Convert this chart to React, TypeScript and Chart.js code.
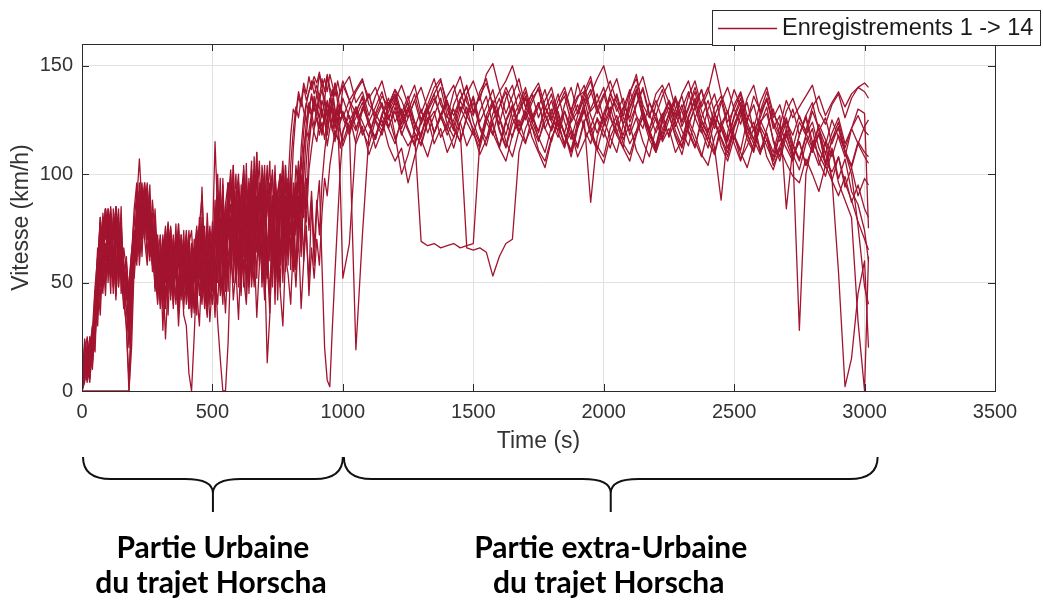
import React, { useEffect, useRef } from "react";
import { Chart, registerables } from "chart.js";

Chart.register(...registerables);

// Sampling grid of the recordings (seconds): every 10 s in town, every 25 s afterwards, last sample at 3015 s
const TIME_URBAN = Array.from({ length: 100 }, (_, i) => i * 10);
const TIME_ROAD = Array.from({ length: 81 }, (_, i) => 1000 + i * 25);
const TIME_S = [...TIME_URBAN, ...TIME_ROAD, 3015];

// Speed (km/h) of each recording
const REC_01 = [
  0, 5, 18, 10, 22, 38, 55, 80, 62, 84,
  50, 78, 45, 85, 60, 72, 40, 55, 35, 62,
  80, 70, 95, 78, 92, 60, 85, 55, 70, 45,
  62, 38, 70, 52, 75, 45, 68, 40, 72, 55,
  48, 70, 42, 65, 35, 72, 50, 76, 45, 68,
  52, 88, 60, 98, 45, 85, 70, 100, 55, 92,
  48, 95, 62, 105, 50, 88, 72, 110, 58, 90,
  45, 98, 65, 85, 40, 92, 60, 102, 70, 96,
  118, 130, 127, 136, 131, 140, 134, 138, 143, 137,
  141, 135, 144, 138, 146, 140, 136, 142, 133, 138,
  143, 134, 128, 136, 124, 131, 138, 126, 133, 121,
  129, 137, 125, 132, 140, 144, 130, 122, 134, 127,
  136, 124, 131, 139, 126, 118, 130, 137, 125, 133,
  140, 128, 120, 131, 136, 124, 129, 138, 127, 119,
  128, 137, 131, 123, 133, 141, 129, 120, 132, 139,
  127, 134, 122, 130, 138, 125, 119, 131, 136, 124,
  130, 137, 124, 116, 128, 135, 121, 127, 84, 112,
  124, 118, 129, 121, 113, 125, 117, 108, 121, 114,
  122, 125,
];
const REC_02 = [
  0, 0, 0, 0, 0, 0, 0, 0, 0, 0,
  0, 0, 0, 0, 0, 0, 0, 0, 0, 30,
  62, 88, 107, 85, 96, 70, 90, 62, 78, 50,
  65, 28, 58, 45, 72, 50, 66, 42, 70, 48,
  60, 38, 66, 50, 74, 58, 94, 55, 72, 45,
  68, 115, 82, 60, 95, 52, 88, 68, 104, 58,
  80, 46, 98, 70, 88, 55, 102, 66, 92, 50,
  95, 62, 84, 48, 100, 72, 90, 56, 98, 80,
  104, 120, 131, 126, 135, 129, 124, 133, 128, 136,
  131, 126, 134, 129, 123, 132, 127, 121, 130, 125,
  128, 120, 131, 124, 117, 127, 133, 122, 129, 118,
  126, 134, 123, 130, 119, 127, 136, 141, 129, 137,
  143, 134, 146, 151, 139, 128, 136, 144, 131, 125,
  133, 121, 128, 137, 124, 116, 127, 135, 122, 130,
  137, 126, 118, 130, 139, 127, 121, 133, 125, 117,
  128, 136, 124, 131, 140, 129, 120, 127, 134, 122,
  116, 127, 133, 120, 126, 135, 123, 115, 124, 118,
  127, 119, 112, 123, 116, 108, 118, 111, 104, 115,
  110, 108,
];
const REC_03 = [
  0, 15, 8, 22, 14, 30, 48, 70, 55, 78,
  62, 85, 58, 80, 48, 66, 42, 30, 0, 20,
  58, 75, 92, 70, 88, 78, 95, 65, 52, 70,
  45, 68, 55, 78, 50, 62, 40, 70, 58, 35,
  30, 8, 0, 25, 55, 75, 48, 68, 40, 60,
  50, 72, 100, 65, 92, 48, 80, 95, 60, 88,
  100, 55, 78, 96, 45, 85, 70, 104, 62, 92,
  50, 88, 106, 60, 94, 42, 82, 98, 55, 80,
  92, 58, 96, 75, 112, 126, 133, 128, 137, 131,
  127, 134, 139, 132, 126, 135, 129, 124, 133, 128,
  135, 126, 120, 131, 124, 116, 127, 133, 118, 100,
  109, 121, 130, 119, 127, 135, 123, 117, 128, 136,
  124, 115, 127, 134, 121, 113, 126, 132, 140, 128,
  119, 130, 137, 124, 114, 127, 135, 141, 129, 133,
  140, 127, 118, 112, 137, 146, 130, 121, 128, 116,
  125, 135, 129, 119, 112, 126, 134, 123, 117, 110,
  122, 131, 119, 111, 124, 128, 116, 108, 121, 113,
  106, 117, 110, 119, 104, 112, 98, 107, 92, 86,
  74, 60,
];
const REC_04 = [
  0, 8, 20, 12, 25, 18, 52, 75, 48, 82,
  70, 45, 84, 55, 78, 60, 50, 38, 28, 48,
  72, 60, 88, 96, 75, 90, 68, 82, 55, 40,
  60, 48, 72, 35, 65, 52, 77, 46, 68, 38,
  58, 74, 44, 66, 52, 80, 58, 42, 70, 55,
  40, 58, 32, 15, 0, 0, 22, 60, 85, 55,
  92, 62, 100, 48, 82, 106, 58, 90, 72, 98,
  60, 13, 35, 78, 96, 52, 88, 65, 104, 70,
  95, 55, 88, 102, 68, 98, 118, 130, 127, 134,
  130, 137, 128, 124, 133, 127, 135, 129, 122, 131,
  126, 134, 121, 129, 137, 124, 118, 129, 135, 123,
  130, 119, 114, 125, 133, 140, 127, 120, 131, 124,
  118, 129, 136, 122, 113, 125, 132, 119, 127, 135,
  139, 127, 120, 131, 138, 128, 142, 131, 137, 144,
  150, 138, 129, 135, 124, 132, 140, 128, 119, 127,
  134, 122, 130, 138, 126, 119, 130, 137, 124, 116,
  126, 133, 121, 114, 125, 118, 110, 122, 115, 107,
  118, 126, 112, 104, 115, 97, 108, 94, 103, 90,
  98, 95,
];
const REC_05 = [
  0, 20, 14, 25, 10, 42, 35, 65, 80, 52,
  76, 84, 50, 68, 82, 45, 60, 48, 32, 58,
  78, 92, 66, 85, 70, 96, 62, 80, 48, 66,
  40, 60, 75, 48, 70, 56, 42, 66, 50, 74,
  46, 62, 38, 70, 54, 76, 62, 48, 82, 58,
  78, 48, 90, 62, 98, 55, 84, 70, 104, 52,
  88, 66, 96, 42, 80, 100, 56, 74, 92, 48,
  85, 104, 60, 90, 72, 50, 96, 66, 86, 58,
  98, 72, 90, 106, 84, 112, 120, 116, 125, 119,
  115, 124, 118, 127, 113, 121, 126, 117, 123, 112,
  120, 127, 114, 122, 109, 118, 125, 113, 106, 112,
  96, 108, 119, 126, 114, 121, 110, 117, 124, 113,
  120, 109, 116, 124, 112, 106, 118, 125, 115, 122,
  111, 106, 117, 123, 113, 120, 108, 115, 122, 111,
  105, 117, 124, 114, 109, 119, 126, 116, 110, 121,
  127, 118, 112, 123, 115, 108, 120, 126, 113, 106,
  117, 110, 103, 114, 121, 108, 102, 112, 105, 99,
  96, 107, 100, 92, 104, 97, 90, 99, 87, 95,
  84, 80,
];
const REC_06 = [
  0, 10, 4, 25, 16, 35, 62, 48, 82, 70,
  84, 62, 78, 50, 72, 58, 44, 30, 5, 38,
  68, 82, 72, 94, 80, 88, 70, 58, 74, 46,
  55, 70, 42, 62, 48, 72, 54, 40, 64, 50,
  72, 46, 60, 38, 66, 52, 80, 56, 44, 68,
  58, 80, 50, 92, 66, 48, 86, 102, 70, 56,
  96, 78, 104, 60, 90, 70, 108, 64, 94, 82,
  100, 58, 86, 72, 104, 62, 96, 50, 90, 68,
  84, 112, 128, 138, 133, 142, 137, 145, 139, 143,
  136, 146, 140, 134, 145, 138, 131, 142, 137, 129,
  140, 145, 133, 138, 127, 136, 143, 131, 137, 126,
  134, 141, 128, 136, 144, 132, 126, 138, 145, 133,
  127, 138, 144, 131, 123, 135, 141, 128, 136, 124,
  131, 139, 126, 120, 132, 140, 128, 136, 143, 130,
  124, 137, 144, 132, 126, 138, 145, 133, 127, 136,
  142, 130, 124, 136, 143, 131, 138, 151, 137, 128,
  139, 131, 124, 136, 129, 138, 126, 132, 121, 130,
  118, 127, 133, 120, 126, 114, 122, 110, 100, 76,
  48, 40,
];
const REC_07 = [
  0, 12, 22, 15, 30, 24, 45, 72, 58, 80,
  66, 82, 48, 74, 56, 85, 40, 58, 46, 64,
  52, 70, 84, 62, 92, 74, 60, 82, 50, 72,
  48, 66, 40, 58, 74, 50, 66, 36, 60, 45,
  70, 54, 42, 64, 48, 72, 60, 38, 58, 32,
  50, 66, 78, 92, 58, 84, 46, 72, 94, 60,
  80, 50, 90, 68, 98, 56, 84, 100, 62, 88,
  54, 92, 70, 58, 96, 74, 48, 86, 64, 98,
  72, 90, 56, 84, 100, 80, 106, 120, 128, 122,
  131, 125, 119, 128, 134, 126, 120, 129, 123, 132,
  126, 118, 129, 135, 124, 116, 127, 121, 131, 119,
  113, 118, 69, 67, 68, 66, 67, 68, 66, 67,
  68, 115, 127, 119, 112, 124, 131, 120, 114, 126,
  133, 121, 115, 127, 118, 110, 122, 130, 119, 125,
  117, 128, 136, 123, 114, 120, 129, 118, 111, 124,
  131, 120, 113, 126, 134, 122, 116, 128, 121, 112,
  123, 130, 118, 111, 122, 116, 108, 119, 126, 114,
  107, 118, 124, 112, 105, 116, 121, 110, 103, 114,
  108, 105,
];
const REC_08 = [
  0, 18, 25, 8, 20, 46, 30, 58, 74, 50,
  80, 62, 74, 84, 55, 70, 58, 48, 30, 52,
  66, 84, 58, 76, 92, 70, 86, 60, 75, 42,
  68, 52, 38, 62, 76, 46, 60, 72, 42, 66,
  52, 64, 36, 56, 74, 60, 44, 70, 56, 76,
  62, 42, 68, 80, 52, 70, 96, 58, 82, 100,
  62, 90, 48, 86, 64, 102, 76, 52, 96, 70,
  104, 66, 44, 80, 60, 92, 100, 54, 82, 96,
  56, 90, 72, 100, 62, 94, 78, 102, 112, 121,
  126, 118, 124, 116, 125, 130, 121, 115, 126, 120,
  113, 122, 129, 118, 125, 112, 120, 127, 116, 124,
  131, 119, 113, 124, 129, 117, 123, 130, 120, 66,
  65, 66, 64, 53, 62, 68, 70, 110, 121, 128,
  116, 124, 130, 119, 112, 125, 132, 121, 114, 126,
  120, 112, 124, 131, 118, 126, 115, 108, 121, 128,
  117, 125, 132, 120, 113, 124, 118, 110, 123, 129,
  114, 106, 118, 124, 111, 119, 106, 113, 120, 108,
  115, 104, 112, 119, 106, 101, 108, 96, 88, 78,
  70, 65,
];
const REC_09 = [
  0, 4, 12, 6, 18, 28, 50, 35, 62, 44,
  70, 52, 64, 42, 76, 55, 38, 50, 25, 44,
  58, 74, 62, 88, 70, 58, 80, 66, 48, 62,
  38, 56, 24, 50, 64, 40, 58, 30, 52, 66,
  44, 58, 34, 62, 46, 30, 60, 48, 68, 40,
  56, 34, 66, 44, 58, 36, 62, 70, 42, 56,
  33, 64, 52, 40, 72, 48, 66, 34, 58, 70,
  42, 60, 36, 68, 50, 74, 46, 30, 62, 54,
  40, 68, 48, 72, 38, 60, 76, 44, 66, 52,
  70, 58, 82, 98, 90, 104, 112, 120, 116, 124,
  129, 120, 126, 133, 122, 117, 128, 135, 124, 130,
  121, 114, 125, 131, 119, 127, 134, 122, 115, 126,
  133, 121, 113, 125, 131, 138, 126, 119, 129, 122,
  115, 127, 134, 122, 129, 118, 112, 124, 130, 137,
  125, 117, 110, 123, 131, 139, 127, 120, 113, 126,
  133, 124, 116, 127, 135, 122, 115, 109, 121, 129,
  118, 111, 125, 132, 120, 113, 106, 118, 125, 110,
  28, 100, 114, 121, 109, 119, 126, 114, 121, 127,
  120, 118,
];
const REC_10 = [
  0, 22, 15, 6, 28, 48, 62, 40, 72, 84,
  60, 80, 48, 70, 84, 52, 66, 56, 42, 60,
  74, 58, 96, 80, 70, 92, 76, 58, 84, 60,
  72, 54, 76, 60, 44, 70, 56, 77, 48, 68,
  56, 72, 50, 66, 58, 76, 90, 64, 50, 72,
  60, 84, 66, 48, 88, 70, 96, 56, 80, 62,
  90, 64, 98, 74, 50, 92, 60, 88, 106, 70,
  66, 96, 78, 56, 100, 82, 58, 94, 72, 62,
  98, 74, 56, 90, 64, 96, 72, 50, 88, 58,
  84, 97, 58, 20, 5, 2, 30, 55, 79, 102,
  119, 130, 138, 143, 135, 140, 131, 125, 134, 141,
  132, 124, 118, 130, 137, 126, 120, 132, 139, 128,
  135, 122, 116, 128, 135, 124, 117, 130, 138, 126,
  120, 131, 124, 117, 129, 121, 113, 125, 87, 117,
  127, 135, 124, 118, 130, 138, 126, 119, 112, 125,
  134, 128, 120, 113, 126, 133, 140, 128, 121, 115,
  127, 135, 122, 116, 109, 121, 130, 118, 112, 106,
  118, 127, 115, 109, 103, 116, 124, 112, 121, 130,
  128, 75,
];
const REC_11 = [
  0, 14, 6, 20, 30, 22, 58, 78, 50, 84,
  74, 56, 80, 44, 68, 76, 52, 62, 35, 46,
  60, 78, 92, 70, 96, 84, 64, 88, 72, 48,
  66, 42, 62, 76, 46, 70, 58, 44, 72, 60,
  74, 50, 38, 64, 76, 52, 70, 46, 34, 62,
  48, 76, 88, 54, 44, 86, 96, 62, 50, 82,
  56, 90, 102, 66, 96, 52, 84, 110, 72, 60,
  86, 58, 94, 100, 68, 50, 92, 64, 104, 80,
  62, 96, 74, 104, 82, 110, 124, 131, 136, 129,
  137, 131, 126, 135, 128, 133, 139, 130, 124, 95,
  52, 68, 116, 130, 137, 125, 120, 132, 139, 128,
  136, 124, 117, 129, 135, 127, 118, 125, 134, 141,
  128, 136, 124, 118, 131, 140, 133, 122, 130, 137,
  126, 134, 140, 127, 119, 130, 136, 138, 145, 131,
  122, 129, 137, 126, 120, 132, 139, 127, 134, 125,
  118, 130, 136, 123, 131, 139, 126, 112, 88, 119,
  132, 138, 127, 121, 133, 140, 128, 122, 134, 126,
  131, 136, 141, 129, 123, 132, 137, 126, 135, 140,
  138, 135,
];
const REC_12 = [
  0, 6, 14, 24, 12, 28, 40, 56, 45, 68,
  54, 76, 62, 85, 48, 70, 56, 42, 50, 64,
  74, 62, 86, 72, 94, 78, 62, 74, 52, 66,
  50, 72, 56, 77, 64, 46, 72, 58, 44, 68,
  52, 38, 68, 56, 42, 60, 74, 58, 46, 70,
  64, 52, 40, 66, 80, 46, 70, 86, 74, 50,
  66, 44, 80, 60, 90, 68, 48, 84, 62, 96,
  80, 52, 72, 90, 58, 82, 100, 64, 78, 92,
  64, 84, 96, 68, 88, 60, 98, 74, 92, 66,
  88, 72, 96, 110, 121, 127, 132, 126, 131, 124,
  128, 121, 19, 72, 118, 128, 122, 131, 136, 127,
  120, 113, 124, 130, 119, 126, 133, 121, 115, 127,
  121, 114, 125, 132, 120, 112, 123, 129, 135, 124,
  117, 110, 122, 129, 118, 111, 124, 131, 119, 113,
  108, 121, 127, 116, 123, 111, 105, 118, 126, 115,
  121, 110, 116, 125, 118, 109, 104, 117, 124, 112,
  118, 107, 113, 121, 110, 116, 104, 111, 119, 109,
  115, 104, 112, 118, 110, 98, 55, 2, 15, 45,
  60, 20,
];
const REC_13 = [
  0, 16, 10, 4, 24, 42, 66, 52, 78, 60,
  84, 66, 50, 80, 58, 72, 46, 38, 20, 42,
  64, 80, 70, 88, 74, 92, 64, 78, 46, 58,
  42, 64, 72, 50, 62, 38, 66, 74, 48, 58,
  66, 44, 60, 36, 70, 54, 40, 64, 76, 50,
  70, 56, 76, 48, 92, 62, 78, 98, 66, 84,
  96, 70, 54, 100, 76, 58, 94, 80, 60, 104,
  92, 62, 80, 102, 70, 54, 90, 106, 82, 66,
  100, 80, 104, 92, 108, 96, 84, 112, 125, 132,
  127, 121, 130, 124, 118, 127, 131, 123, 129, 120,
  115, 124, 131, 120, 113, 125, 132, 121, 114, 126,
  133, 122, 116, 108, 119, 128, 121, 112, 124, 131,
  119, 112, 124, 133, 126, 115, 108, 120, 128, 117,
  110, 103, 116, 125, 119, 108, 121, 129, 118, 111,
  123, 131, 120, 112, 106, 118, 127, 121, 110, 119,
  128, 117, 109, 122, 131, 120, 112, 125, 116, 108,
  121, 129, 116, 110, 123, 131, 115, 106, 118, 109,
  102, 114, 121, 106, 99, 111, 96, 88, 80, 32,
  0, 62,
];
const REC_14 = [
  0, 24, 16, 8, 20, 34, 58, 80, 66, 84,
  58, 82, 70, 85, 62, 78, 54, 60, 44, 62,
  84, 96, 76, 90, 82, 95, 72, 64, 80, 52,
  46, 64, 50, 70, 42, 66, 56, 77, 44, 60,
  40, 68, 74, 52, 62, 44, 70, 60, 36, 58,
  46, 70, 84, 58, 40, 74, 54, 80, 92, 56,
  82, 60, 92, 70, 48, 86, 98, 66, 90, 100,
  64, 88, 96, 70, 54, 90, 100, 76, 60, 98,
  82, 66, 94, 78, 102, 120, 132, 138, 141, 145,
  142, 147, 140, 144, 138, 146, 141, 136, 143, 137,
  141, 134, 139, 144, 132, 128, 136, 131, 139, 134,
  126, 134, 140, 130, 137, 143, 133, 127, 135, 140,
  129, 136, 142, 132, 138, 143, 150, 139, 131, 137,
  142, 131, 125, 134, 140, 129, 122, 133, 139, 128,
  136, 143, 133, 127, 138, 144, 132, 126, 137, 141,
  133, 126, 137, 143, 131, 139, 128, 121, 133, 140,
  130, 123, 135, 141, 128, 134, 124, 118, 129, 135,
  126, 120, 131, 136, 127, 133, 138, 131, 137, 140,
  142, 140,
];

const RECORDINGS = [
  REC_01, REC_02, REC_03, REC_04, REC_05, REC_06, REC_07,
  REC_08, REC_09, REC_10, REC_11, REC_12, REC_13, REC_14,
];

const LEGEND_LABEL = "Enregistrements 1 -> 14";
const X_TITLE = "Time (s)";
const Y_TITLE = "Vitesse (km/h)";
const X_TICKS = [0, 500, 1000, 1500, 2000, 2500, 3000, 3500];
const Y_TICKS = [0, 50, 100, 150];
const X_RANGE = [0, 3500];
const Y_RANGE = [0, 160];
// Time bounds of the two annotated parts of the trip (braces under the axis)
const SECTION_BOUNDS = [0, 1000, 3050];
const SECTION_LABELS = [
  ["Partie Urbaine", "du trajet Horscha"],
  ["Partie extra-Urbaine", "du trajet Horscha"],
];

const LINE_COLOR = "#A2142F";
const AXIS_COLOR = "#2b2b2b";
const TEXT_COLOR = "#333333";
const GRID_COLOR = "#e2e2e2";
const FONT = "'Liberation Sans', Arial, Helvetica, sans-serif";
const TICK_LEN = 7;

function drawBrace(ctx: CanvasRenderingContext2D, x1: number, x2: number, yTop: number, yMid: number, yTip: number) {
  const xc = (x1 + x2) / 2;
  const r = 28;
  const cusp = 14;
  ctx.beginPath();
  ctx.moveTo(x1, yTop);
  ctx.quadraticCurveTo(x1, yMid, x1 + r, yMid);
  ctx.lineTo(xc - r, yMid);
  ctx.quadraticCurveTo(xc, yMid, xc, yMid + cusp);
  ctx.lineTo(xc, yTip);
  ctx.moveTo(x2, yTop);
  ctx.quadraticCurveTo(x2, yMid, x2 - r, yMid);
  ctx.lineTo(xc + r, yMid);
  ctx.quadraticCurveTo(xc, yMid, xc, yMid + cusp);
  ctx.stroke();
}

const decorPlugin = {
  id: "matlabDecor",
  afterDatasetsDraw(chart: any) {
    const { ctx, chartArea: a, scales } = chart;
    ctx.save();
    ctx.strokeStyle = AXIS_COLOR;
    ctx.lineWidth = 1;
    ctx.beginPath();
    for (const v of X_TICKS) {
      const x = Math.round(scales.x.getPixelForValue(v)) + 0.5;
      ctx.moveTo(x, a.bottom);
      ctx.lineTo(x, a.bottom - TICK_LEN);
      ctx.moveTo(x, a.top);
      ctx.lineTo(x, a.top + TICK_LEN);
    }
    for (const v of Y_TICKS) {
      const y = Math.round(scales.y.getPixelForValue(v)) + 0.5;
      ctx.moveTo(a.left, y);
      ctx.lineTo(a.left + TICK_LEN, y);
      ctx.moveTo(a.right, y);
      ctx.lineTo(a.right - TICK_LEN, y);
    }
    ctx.stroke();
    ctx.strokeRect(Math.round(a.left) + 0.5, Math.round(a.top) + 0.5, Math.round(a.right - a.left), Math.round(a.bottom - a.top));
    ctx.restore();
  },
  afterDraw(chart: any) {
    const { ctx, scales } = chart;
    ctx.save();
    // legend
    const lx = 712.5, ly = 10.5, lw = 328, lh = 35;
    ctx.fillStyle = "#ffffff";
    ctx.fillRect(lx, ly, lw, lh);
    ctx.strokeStyle = AXIS_COLOR;
    ctx.lineWidth = 1;
    ctx.strokeRect(lx, ly, lw, lh);
    ctx.strokeStyle = LINE_COLOR;
    ctx.lineWidth = 1.3;
    ctx.beginPath();
    ctx.moveTo(718, 28.5);
    ctx.lineTo(777, 28.5);
    ctx.stroke();
    ctx.fillStyle = "#1a1a1a";
    ctx.font = `23.5px ${FONT}`;
    ctx.textAlign = "left";
    ctx.textBaseline = "middle";
    ctx.fillText(LEGEND_LABEL, 782, 29);

    // braces and section labels
    ctx.strokeStyle = "#111111";
    ctx.lineWidth = 2;
    ctx.fillStyle = "#000000";
    ctx.font = `bold 30px Lato, 'Open Sans', sans-serif`;
    ctx.textAlign = "center";
    ctx.textBaseline = "middle";
    for (let i = 0; i < SECTION_LABELS.length; i++) {
      const x1 = scales.x.getPixelForValue(SECTION_BOUNDS[i]) + 1;
      const x2 = scales.x.getPixelForValue(SECTION_BOUNDS[i + 1]);
      drawBrace(ctx, x1, x2, 457, 479, 512);
      const xc = (x1 + x2) / 2;
      ctx.fillText(SECTION_LABELS[i][0], xc, 548);
      ctx.fillText(SECTION_LABELS[i][1], xc - 2, 583);
    }
    ctx.restore();
  },
};

export default function App() {
  const canvasRef = useRef<HTMLCanvasElement | null>(null);

  useEffect(() => {
    document.body.style.margin = "0";
    const canvas = canvasRef.current;
    if (!canvas) return;
    const datasets = RECORDINGS.map((rec, k) => ({
      label: k === 0 ? LEGEND_LABEL : `Enregistrement ${k + 1}`,
      data: TIME_S.map((t, i) => ({ x: t, y: rec[i] })),
      borderColor: LINE_COLOR,
      backgroundColor: LINE_COLOR,
      borderWidth: 1.3,
      pointRadius: 0,
      fill: false,
      tension: 0,
      borderJoinStyle: "round" as const,
    }));

    const chart = new Chart(canvas, {
      type: "line",
      data: { datasets },
      options: {
        animation: false,
        responsive: false,
        devicePixelRatio: 1,
        layout: { padding: { left: 8, right: 48, top: 44, bottom: 147 } },
        plugins: { legend: { display: false }, tooltip: { enabled: false } },
        scales: {
          x: {
            type: "linear",
            min: X_RANGE[0],
            max: X_RANGE[1],
            afterBuildTicks: (axis: any) => {
              axis.ticks = X_TICKS.map((v) => ({ value: v }));
            },
            afterFit: (scale: any) => {
              scale.height = 64;
            },
            ticks: {
              color: TEXT_COLOR,
              font: { family: FONT, size: 20 },
              padding: 9,
              maxRotation: 0,
              callback: (v: any) => String(v),
            },
            grid: { color: GRID_COLOR, lineWidth: 1, drawTicks: false },
            border: { display: false },
            title: { display: true, text: X_TITLE, color: TEXT_COLOR, font: { family: FONT, size: 23 }, padding: 0 },
          },
          y: {
            type: "linear",
            min: Y_RANGE[0],
            max: Y_RANGE[1],
            afterBuildTicks: (axis: any) => {
              axis.ticks = Y_TICKS.map((v) => ({ value: v }));
            },
            afterFit: (scale: any) => {
              scale.width = 74;
            },
            ticks: { color: TEXT_COLOR, font: { family: FONT, size: 20 }, padding: 9, callback: (v: any) => String(v) },
            grid: { color: GRID_COLOR, lineWidth: 1, drawTicks: false },
            border: { display: false },
            title: { display: true, text: Y_TITLE, color: TEXT_COLOR, font: { family: FONT, size: 23 }, padding: 0 },
          },
        },
      },
      plugins: [decorPlugin],
    });
    return () => chart.destroy();
  }, []);

  return (
    <div style={{ position: "absolute", left: 0, top: 0, width: 1043, height: 602, background: "#ffffff" }}>
      <canvas ref={canvasRef} width={1043} height={602} style={{ display: "block" }} />
    </div>
  );
}
